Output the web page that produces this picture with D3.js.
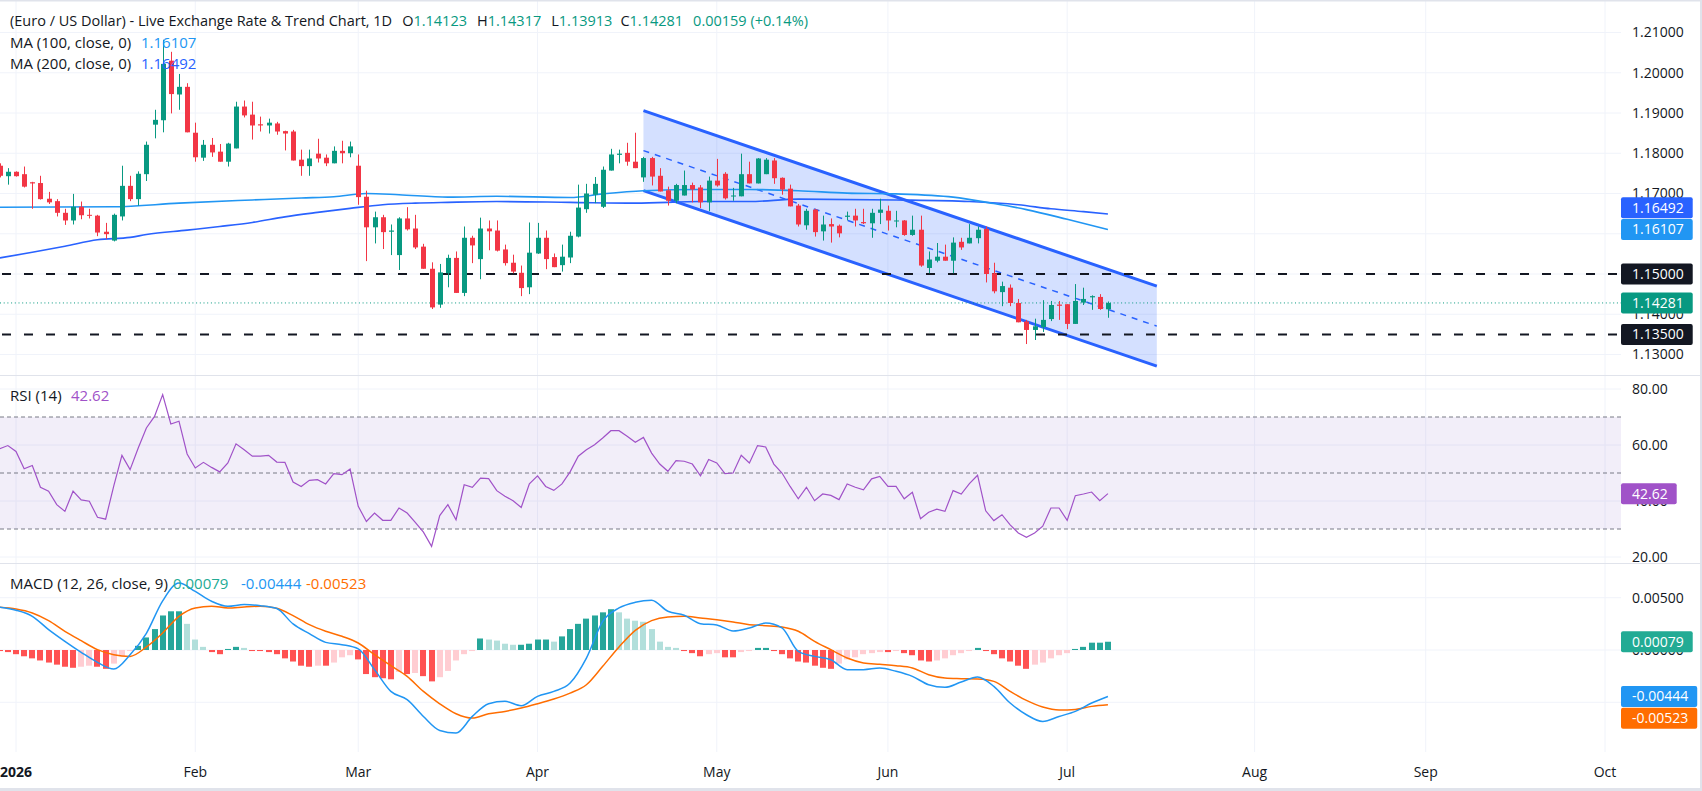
<!DOCTYPE html>
<html>
<head>
<meta charset="utf-8">
<script src="https://cdn.jsdelivr.net/npm/d3@7"></script>
<style>
  body { margin: 0; background: #ffffff; }
  svg text { font-family: "Open Sans", "Noto Sans", sans-serif; }
</style>
</head>
<body>
<div id="vis"></div>
<script>
// ---------------- data ----------------
// bars run on trading days (Mon-Fri) from 30 Dec 2025 to 8 Jul 2026
var firstDay = new Date(2025, 11, 30);
var lastAxisDay = new Date(2026, 9, 10);

var opens = [
  1.1769, 1.1743, 1.1754, 1.1748, 1.1728, 1.1726, 1.1687, 1.1681, 1.1652, 1.1633,
  1.1667, 1.1647, 1.1645, 1.1605, 1.1583, 1.1643, 1.1719, 1.1686, 1.1748, 1.1871,
  1.1882, 1.2030, 1.1946, 1.1965, 1.1851, 1.1789, 1.1821, 1.1804, 1.1779, 1.1812,
  1.1916, 1.1896, 1.1872, 1.1869, 1.1874, 1.1855, 1.1854, 1.1784, 1.1768, 1.1799,
  1.1789, 1.1775, 1.1806, 1.1800, 1.1769, 1.1692, 1.1616, 1.1641, 1.1605, 1.1547,
  1.1638, 1.1613, 1.1568, 1.1513, 1.1424, 1.1502, 1.1540, 1.1453, 1.1590, 1.1537,
  1.1613, 1.1608, 1.1561, 1.1528, 1.1503, 1.1467, 1.1551, 1.1590, 1.1542, 1.1522,
  1.1541, 1.1593, 1.1661, 1.1697, 1.1667, 1.1757, 1.1796, 1.1801, 1.1779, 1.1740,
  1.1788, 1.1744, 1.1708, 1.1682, 1.1695, 1.1721, 1.1715, 1.1678, 1.1732, 1.1749,
  1.1693, 1.1693, 1.1748, 1.1725, 1.1748, 1.1782, 1.1739, 1.1712, 1.1670, 1.1621,
  1.1660, 1.1606, 1.1624, 1.1620, 1.1642, 1.1645, 1.1629, 1.1626, 1.1652, 1.1657,
  1.1631, 1.1633, 1.1597, 1.1610, 1.1515, 1.1533, 1.1543, 1.1533, 1.1580, 1.1576,
  1.1589, 1.1612, 1.1502, 1.1455, 1.1466, 1.1428, 1.1382, 1.1361, 1.1368, 1.1388,
  1.1424, 1.1425, 1.1376, 1.1429, 1.1442, 1.1443, 1.14123
];
var highs = [
  1.1775, 1.1763, 1.1755, 1.1767, 1.1729, 1.1744, 1.1704, 1.1686, 1.1662, 1.1699,
  1.1680, 1.1662, 1.1647, 1.1627, 1.1650, 1.1769, 1.1744, 1.1755, 1.1829, 1.1908,
  1.2082, 1.2052, 1.1997, 1.1974, 1.1876, 1.1833, 1.1838, 1.1823, 1.1826, 1.1928,
  1.1931, 1.1928, 1.1891, 1.1886, 1.1878, 1.1856, 1.1858, 1.1809, 1.1809, 1.1836,
  1.1797, 1.1817, 1.1831, 1.1829, 1.1797, 1.1707, 1.1655, 1.1647, 1.1623, 1.1641,
  1.1666, 1.1647, 1.1575, 1.1529, 1.1525, 1.1548, 1.1556, 1.1618, 1.1595, 1.1640,
  1.1633, 1.1633, 1.1573, 1.1548, 1.1521, 1.1628, 1.1627, 1.1608, 1.1551, 1.1573,
  1.1605, 1.1722, 1.1724, 1.1741, 1.1767, 1.1811, 1.1809, 1.1826, 1.1851, 1.1791,
  1.1791, 1.1763, 1.1717, 1.1724, 1.1757, 1.1727, 1.1721, 1.1742, 1.1786, 1.1753,
  1.1714, 1.1799, 1.1779, 1.1788, 1.1788, 1.1788, 1.1740, 1.1722, 1.1674, 1.1662,
  1.1662, 1.1645, 1.1638, 1.1623, 1.1655, 1.1662, 1.1662, 1.1662, 1.1687, 1.1670,
  1.1657, 1.1634, 1.1645, 1.1645, 1.1556, 1.1577, 1.1573, 1.1591, 1.1590, 1.1624,
  1.1618, 1.1618, 1.1528, 1.1481, 1.1474, 1.1438, 1.1386, 1.1389, 1.1435, 1.1433,
  1.1433, 1.1425, 1.1475, 1.1466, 1.1447, 1.1450, 1.14317
];
var lows = [
  1.1740, 1.1722, 1.1742, 1.1715, 1.1662, 1.1685, 1.1674, 1.1643, 1.1622, 1.1623,
  1.1636, 1.1638, 1.1594, 1.1587, 1.1581, 1.1633, 1.1681, 1.1670, 1.1731, 1.1837,
  1.1852, 1.1899, 1.1908, 1.1852, 1.1779, 1.1781, 1.1791, 1.1779, 1.1767, 1.1812,
  1.1889, 1.1834, 1.1854, 1.1849, 1.1846, 1.1807, 1.1782, 1.1744, 1.1744, 1.1777,
  1.1768, 1.1775, 1.1775, 1.1790, 1.1672, 1.1532, 1.1576, 1.1562, 1.1547, 1.1510,
  1.1608, 1.1562, 1.1513, 1.1413, 1.1416, 1.1467, 1.1453, 1.1445, 1.1527, 1.1487,
  1.1559, 1.1556, 1.1521, 1.1502, 1.1445, 1.1450, 1.1550, 1.1512, 1.1517, 1.1506,
  1.1527, 1.1591, 1.1652, 1.1676, 1.1664, 1.1757, 1.1775, 1.1769, 1.1763, 1.1729,
  1.1720, 1.1705, 1.1670, 1.1676, 1.1695, 1.1678, 1.1664, 1.1656, 1.1717, 1.1685,
  1.1682, 1.1693, 1.1725, 1.1725, 1.1748, 1.1724, 1.1697, 1.1668, 1.1618, 1.1610,
  1.1593, 1.1583, 1.1578, 1.1591, 1.1633, 1.1618, 1.1624, 1.1590, 1.1624, 1.1608,
  1.1616, 1.1595, 1.1595, 1.1518, 1.1502, 1.1529, 1.1533, 1.1502, 1.1560, 1.1576,
  1.1576, 1.1479, 1.1452, 1.1420, 1.1420, 1.1380, 1.1326, 1.1336, 1.1356, 1.1383,
  1.1386, 1.1363, 1.1376, 1.1423, 1.1411, 1.1411, 1.13913
];
var closes = [
  1.1744, 1.1754, 1.1743, 1.1717, 1.1725, 1.1686, 1.1678, 1.1652, 1.1633, 1.1667,
  1.1646, 1.1645, 1.1603, 1.1599, 1.1647, 1.1719, 1.1686, 1.1749, 1.1821, 1.1883,
  1.2022, 1.1947, 1.1965, 1.1852, 1.1790, 1.1821, 1.1802, 1.1779, 1.1824, 1.1916,
  1.1894, 1.1869, 1.1869, 1.1876, 1.1854, 1.1849, 1.1782, 1.1768, 1.1787, 1.1787,
  1.1775, 1.1806, 1.1800, 1.1817, 1.1691, 1.1616, 1.1641, 1.1604, 1.1608, 1.1638,
  1.1611, 1.1566, 1.1513, 1.1417, 1.1504, 1.1540, 1.1453, 1.1590, 1.1571, 1.1613,
  1.1606, 1.1558, 1.1527, 1.1506, 1.1465, 1.1553, 1.1590, 1.1537, 1.1517, 1.1543,
  1.1595, 1.1665, 1.1700, 1.1724, 1.1759, 1.1797, 1.1799, 1.1779, 1.1763, 1.1788,
  1.1742, 1.1705, 1.1682, 1.1721, 1.1721, 1.1710, 1.1678, 1.1732, 1.1720, 1.1688,
  1.1695, 1.1748, 1.1725, 1.1787, 1.1784, 1.1738, 1.1710, 1.1668, 1.1623, 1.1657,
  1.1604, 1.1623, 1.1618, 1.1601, 1.1645, 1.1633, 1.1626, 1.1652, 1.1660, 1.1633,
  1.1633, 1.1597, 1.1610, 1.1521, 1.1536, 1.1543, 1.1533, 1.1578, 1.1566, 1.1590,
  1.1610, 1.1500, 1.1457, 1.1470, 1.1428, 1.1380, 1.1361, 1.1370, 1.1386, 1.1423,
  1.1421, 1.1376, 1.1433, 1.1438, 1.1445, 1.1413, 1.14281
];

// moving averages, sampled at bar numbers (0 = 30 Dec 2025)
var ma100Bars = [0, 14, 22, 31, 37, 41, 45, 49, 55, 61, 70, 74, 79, 86, 92, 98, 104, 110, 117, 122, 126, 131, 136];
var ma100 = [1.1666, 1.1667, 1.1676, 1.1684, 1.1689, 1.1692, 1.1700, 1.1697, 1.1691, 1.1693, 1.1690, 1.1699,
             1.1707, 1.1710, 1.1710, 1.1707, 1.1701, 1.1699, 1.1691, 1.1675, 1.1660, 1.1636, 1.16107];
var ma200Bars = [0, 4, 8, 12, 16, 18, 23, 27, 31, 35, 39, 43, 47, 51, 55, 61, 70, 78, 86, 92, 98, 110, 119, 125, 129, 133, 136];
var ma200 = [1.1540, 1.1554, 1.1569, 1.1585, 1.1591, 1.1598, 1.1609, 1.1618, 1.1628, 1.1642, 1.1653, 1.1663,
             1.1672, 1.1676, 1.1678, 1.1680, 1.1678, 1.1676, 1.1680, 1.1680, 1.1686, 1.1684, 1.1680, 1.1672,
             1.1662, 1.1655, 1.16492];

// descending channel drawn on the chart
var channelBars = [79, 142];
var channelTop = [1.1906, 1.1470];
var channelBottom = [1.1707, 1.1271];
var levels = [1.15, 1.135];

var rsi = [
  58.7, 59.8, 57.7, 51.5, 52.7, 44.9, 43.5, 38.7, 36.3, 43.5,
  40.4, 39.9, 34.2, 33.5, 45.4, 56.3, 51.2, 58.9, 66.1, 70.2,
  78.0, 67.5, 68.5, 56.8, 51.8, 53.8, 52.0, 50.4, 53.6, 60.4,
  58.3, 56.0, 56.0, 56.3, 53.9, 53.8, 46.8, 45.2, 47.4, 47.6,
  46.1, 49.8, 49.4, 51.4, 38.1, 32.7, 35.7, 33.1, 33.1, 37.5,
  35.7, 32.4, 28.9, 23.8, 34.8, 38.7, 33.3, 45.8, 44.9, 48.2,
  48.0, 43.7, 41.7, 40.1, 37.7, 46.1, 49.0, 45.2, 43.8, 46.1,
  50.4, 56.0, 58.3, 60.1, 62.5, 65.1, 65.1, 63.1, 61.0, 62.7,
  57.1, 53.2, 50.6, 54.4, 54.2, 53.2, 49.0, 54.8, 53.6, 49.8,
  50.0, 56.3, 53.6, 59.8, 59.3, 53.2, 50.0, 45.2, 40.8, 44.9,
  40.1, 42.5, 42.0, 40.5, 46.1, 44.9, 44.0, 47.9, 48.8, 45.2,
  45.2, 40.8, 43.1, 33.7, 36.0, 37.1, 36.3, 43.7, 42.5, 46.2,
  49.2, 36.5, 33.0, 35.1, 31.5, 28.6, 27.0, 28.6, 31.0, 37.5,
  37.5, 33.1, 41.9, 42.5, 43.2, 40.1, 42.62
];

// MACD and signal lines, read every second bar (0, 2, 4 ... 136)
var macdLine = [
  0.00408, 0.00380, 0.00322, 0.00195, 0.00083, -0.00022, -0.00118, -0.00182, -0.00045, 0.00160,
  0.00470, 0.00640, 0.00560, 0.00466, 0.00418, 0.00434, 0.00424, 0.00396, 0.00249, 0.00156,
  0.00073, 0.00051, 0.00010, -0.00188, -0.00396, -0.00475, -0.00635, -0.00769, -0.00794, -0.00635,
  -0.00514, -0.00491, -0.00533, -0.00443, -0.00396, -0.00316, -0.00077, 0.00274, 0.00402, 0.00456,
  0.00475, 0.00370, 0.00332, 0.00252, 0.00239, 0.00182, 0.00211, 0.00258, 0.00211, -0.00013,
  -0.00061, -0.00093, -0.00188, -0.00188, -0.00172, -0.00204, -0.00252, -0.00332, -0.00357, -0.00306,
  -0.00258, -0.00348, -0.00507, -0.00619, -0.00683, -0.00635, -0.00587, -0.00507, -0.00444
];
var signalLine = [
  0.00408, 0.00392, 0.00354, 0.00281, 0.00179, 0.00089, 0.00003, -0.00045, -0.00061, 0.00029,
  0.00163, 0.00322, 0.00402, 0.00418, 0.00402, 0.00412, 0.00418, 0.00399, 0.00329, 0.00242,
  0.00179, 0.00131, 0.00067, -0.00045, -0.00150, -0.00252, -0.00396, -0.00514, -0.00609, -0.00651,
  -0.00609, -0.00587, -0.00555, -0.00514, -0.00469, -0.00412, -0.00332, -0.00156, 0.00029, 0.00188,
  0.00281, 0.00316, 0.00322, 0.00306, 0.00290, 0.00268, 0.00242, 0.00233, 0.00220, 0.00179,
  0.00083, 0.00003, -0.00077, -0.00124, -0.00137, -0.00150, -0.00172, -0.00236, -0.00268, -0.00274,
  -0.00278, -0.00300, -0.00396, -0.00482, -0.00545, -0.00574, -0.00568, -0.00539, -0.00523
];
var histogram = [
  -0.0001, -0.0002, -0.0004, -0.0006, -0.0008, -0.0010, -0.0012, -0.0014, -0.0016, -0.0017,
  -0.0016, -0.0015, -0.0016, -0.0018, -0.0013, -0.0006, -0.0001, 0.0004, 0.0012, 0.0020,
  0.0033, 0.0037, 0.0037, 0.0025, 0.0010, 0.0003, -0.0002, -0.0004, 0.0001, 0.0003,
  0.0002, -0.0001, -0.0001, -0.0002, -0.0004, -0.0008, -0.0011, -0.0015, -0.0016, -0.0015,
  -0.0015, -0.0012, -0.0007, -0.0005, -0.0009, -0.0023, -0.0026, -0.0027, -0.0028, -0.0021,
  -0.0023, -0.0022, -0.0025, -0.0030, -0.0026, -0.0020, -0.0010, -0.0004, -0.0001, 0.0011,
  0.0010, 0.0009, 0.0006, 0.0005, 0.0005, 0.0006, 0.0010, 0.0010, 0.0008, 0.0013,
  0.0020, 0.0025, 0.0030, 0.0033, 0.0036, 0.0039, 0.0036, 0.0030, 0.0028, 0.0027,
  0.0020, 0.0008, 0.0003, 0.0002, -0.0001, -0.0003, -0.0006, -0.0004, -0.0003, -0.0007,
  -0.0007, -0.0002, -0.0001, 0.0002, 0.0002, -0.0001, -0.0004, -0.0008, -0.0011, -0.0012,
  -0.0015, -0.0017, -0.0018, -0.0013, -0.0009, -0.0007, -0.0004, -0.0003, -0.0002, -0.0002,
  -0.0001, -0.0003, -0.0005, -0.0010, -0.0011, -0.0010, -0.0008, -0.0005, -0.0003, -0.0001,
  0.0002, -0.0001, -0.0004, -0.0008, -0.0011, -0.0015, -0.0018, -0.0014, -0.0012, -0.0008,
  -0.0005, -0.0003, 0.0001, 0.0003, 0.0007, 0.0007, 0.00079
];

var priceTicks = [1.13, 1.14, 1.15, 1.16, 1.17, 1.18, 1.19, 1.20, 1.21];
var rsiTicks = [20, 40, 60, 80];
var rsiBands = [70, 50, 30];
var macdTicks = [-0.005, 0, 0.005];
var monthLabels = ["2026", "Feb", "Mar", "Apr", "May", "Jun", "Jul", "Aug", "Sep", "Oct"];

// ---------------- layout ----------------
var width = 1702, height = 791;
var plotW = 1621;
var pane = { price: [0, 375], rsi: [375, 563], macd: [563, 752] };
var up = "#089981", down = "#f23645";
var gridColor = "#f0f3fa", borderColor = "#e0e3eb", textColor = "#131722";
var rsiColor = "#a052c8", ma100Color = "#2196f3", ma200Color = "#2962ff";

var days = d3.timeDay.range(firstDay, lastAxisDay).filter(function (d) { return d.getDay() % 6 !== 0; });
var bars = d3.range(closes.length);

var x = d3.scaleLinear().domain([2, 197]).range([16, 1605]);
var yPrice = d3.scaleLinear().domain([1.13, 1.21]).range([354.5, 32.5]);
var yRsi = d3.scaleLinear().domain([20, 80]).range([557, 389]);
var yMacd = d3.scaleLinear().domain([-0.005, 0.005]).range([702.3, 597.7]);

var svg = d3.select("#vis").append("svg")
    .attr("width", width).attr("height", height)
    .style("display", "block");

svg.append("rect").attr("width", width).attr("height", height).attr("fill", "#fff");

var defs = svg.append("defs");
Object.keys(pane).forEach(function (k) {
  defs.append("clipPath").attr("id", "clip-" + k)
    .append("rect").attr("x", 0).attr("y", pane[k][0]).attr("width", plotW).attr("height", pane[k][1] - pane[k][0]);
});

// month gridlines + axis labels
var monthTicks = monthLabels.map(function (lab, j) {
  var idx = days.findIndex(function (d) { return d.getFullYear() === 2026 && d.getMonth() === j; });
  return { label: lab, bar: idx };
});

var grid = svg.append("g");
grid.selectAll("line.v").data(monthTicks).enter().append("line")
    .attr("x1", function (d) { return x(d.bar); }).attr("x2", function (d) { return x(d.bar); })
    .attr("y1", 0).attr("y2", pane.macd[1])
    .attr("stroke", gridColor).attr("stroke-width", 1);

grid.selectAll("line.p").data(priceTicks).enter().append("line")
    .attr("x1", 0).attr("x2", plotW)
    .attr("y1", function (d) { return yPrice(d); }).attr("y2", function (d) { return yPrice(d); })
    .attr("stroke", gridColor);
grid.selectAll("line.r").data(rsiTicks).enter().append("line")
    .attr("x1", 0).attr("x2", plotW)
    .attr("y1", function (d) { return yRsi(d); }).attr("y2", function (d) { return yRsi(d); })
    .attr("stroke", gridColor);
grid.selectAll("line.m").data(macdTicks).enter().append("line")
    .attr("x1", 0).attr("x2", plotW)
    .attr("y1", function (d) { return yMacd(d); }).attr("y2", function (d) { return yMacd(d); })
    .attr("stroke", gridColor);

// ---------------- price pane ----------------
var price = svg.append("g").attr("clip-path", "url(#clip-price)");

// channel
var chan = price.append("g");
chan.append("path")
    .attr("d", d3.line()([
      [x(channelBars[0]), yPrice(channelTop[0])], [x(channelBars[1]), yPrice(channelTop[1])],
      [x(channelBars[1]), yPrice(channelBottom[1])], [x(channelBars[0]), yPrice(channelBottom[0])]
    ]) + "Z")
    .attr("fill", "rgba(41,98,255,0.2)");
[channelTop, channelBottom].forEach(function (c) {
  chan.append("line")
      .attr("x1", x(channelBars[0])).attr("y1", yPrice(c[0]))
      .attr("x2", x(channelBars[1])).attr("y2", yPrice(c[1]))
      .attr("stroke", "#2962ff").attr("stroke-width", 3);
});
chan.append("line")
    .attr("x1", x(channelBars[0])).attr("y1", yPrice((channelTop[0] + channelBottom[0]) / 2))
    .attr("x2", x(channelBars[1])).attr("y2", yPrice((channelTop[1] + channelBottom[1]) / 2))
    .attr("stroke", "#2962ff").attr("stroke-width", 1.5).attr("stroke-dasharray", "6,6");

// horizontal levels
price.selectAll("line.lvl").data(levels).enter().append("line")
    .attr("x1", 0).attr("x2", plotW)
    .attr("y1", function (d) { return yPrice(d); }).attr("y2", function (d) { return yPrice(d); })
    .attr("stroke", textColor).attr("stroke-width", 2).attr("stroke-dasharray", "9,13")
    .attr("stroke-dashoffset", -2);

// last price line
var lastClose = closes[closes.length - 1];
price.append("line")
    .attr("x1", 0).attr("x2", plotW)
    .attr("y1", yPrice(lastClose)).attr("y2", yPrice(lastClose))
    .attr("stroke", up).attr("stroke-width", 1).attr("stroke-dasharray", "1,2.7");

// moving averages
var maLine = d3.line().curve(d3.curveMonotoneX);
price.append("path")
    .attr("d", maLine(ma200Bars.map(function (b, j) { return [x(b), yPrice(ma200[j])]; })))
    .attr("fill", "none").attr("stroke", ma200Color).attr("stroke-width", 1.6);
price.append("path")
    .attr("d", maLine(ma100Bars.map(function (b, j) { return [x(b), yPrice(ma100[j])]; })))
    .attr("fill", "none").attr("stroke", ma100Color).attr("stroke-width", 1.6);

// candles
var candle = price.selectAll("g.candle").data(bars).enter().append("g")
    .attr("fill", function (i) { return closes[i] >= opens[i] ? up : down; })
    .attr("stroke", function (i) { return closes[i] >= opens[i] ? up : down; });
candle.append("line")
    .attr("x1", function (i) { return Math.round(x(i)) + 0.5; })
    .attr("x2", function (i) { return Math.round(x(i)) + 0.5; })
    .attr("y1", function (i) { return yPrice(highs[i]); })
    .attr("y2", function (i) { return yPrice(lows[i]); })
    .attr("stroke-width", 1);
candle.append("rect")
    .attr("stroke", "none")
    .attr("x", function (i) { return Math.round(x(i)) - 2; })
    .attr("width", 5)
    .attr("y", function (i) { return yPrice(Math.max(opens[i], closes[i])); })
    .attr("height", function (i) { return Math.max(1, Math.abs(yPrice(opens[i]) - yPrice(closes[i]))); });

// ---------------- RSI pane ----------------
var rsiG = svg.append("g").attr("clip-path", "url(#clip-rsi)");
rsiG.append("rect")
    .attr("x", 0).attr("width", plotW)
    .attr("y", yRsi(rsiBands[0])).attr("height", yRsi(rsiBands[2]) - yRsi(rsiBands[0]))
    .attr("fill", "rgba(126,87,194,0.1)");
rsiG.selectAll("line.band").data(rsiBands).enter().append("line")
    .attr("x1", 0).attr("x2", plotW)
    .attr("y1", function (d) { return yRsi(d); }).attr("y2", function (d) { return yRsi(d); })
    .attr("stroke", "#787b86").attr("stroke-width", 1).attr("stroke-dasharray", "4,3");
rsiG.append("path")
    .attr("d", d3.line()(bars.map(function (i) { return [x(i), yRsi(rsi[i])]; })))
    .attr("fill", "none").attr("stroke", rsiColor).attr("stroke-width", 1.2);

// ---------------- MACD pane ----------------
var macdG = svg.append("g").attr("clip-path", "url(#clip-macd)");
function histColor(i) {
  var v = histogram[i], prev = i > 0 ? histogram[i - 1] : v;
  if (v >= 0) return v >= prev ? "#26a69a" : "#b2dfdb";
  return v <= prev ? "#ff5252" : "#ffcdd2";
}
macdG.selectAll("rect.h").data(bars).enter().append("rect")
    .attr("x", function (i) { return Math.round(x(i)) - 3; })
    .attr("width", 6)
    .attr("y", function (i) { return Math.min(yMacd(0), yMacd(histogram[i])); })
    .attr("height", function (i) { return Math.max(1, Math.abs(yMacd(histogram[i]) - yMacd(0))); })
    .attr("fill", histColor);
var evenBars = d3.range(0, closes.length, 2);
var smooth = d3.line().curve(d3.curveMonotoneX);
macdG.append("path")
    .attr("d", smooth(evenBars.map(function (b, j) { return [x(b), yMacd(signalLine[j])]; })))
    .attr("fill", "none").attr("stroke", "#ff6d00").attr("stroke-width", 1.5);
macdG.append("path")
    .attr("d", smooth(evenBars.map(function (b, j) { return [x(b), yMacd(macdLine[j])]; })))
    .attr("fill", "none").attr("stroke", "#2196f3").attr("stroke-width", 1.5);

// ---------------- frame and separators ----------------
svg.append("line").attr("x1", 0).attr("x2", width).attr("y1", 375.5).attr("y2", 375.5).attr("stroke", borderColor);
svg.append("line").attr("x1", 0).attr("x2", width).attr("y1", 563.5).attr("y2", 563.5).attr("stroke", borderColor);
svg.append("rect").attr("x", 0).attr("y", 0).attr("width", width).attr("height", 1.5).attr("fill", borderColor);
svg.append("rect").attr("x", width - 2).attr("y", 0).attr("width", 2).attr("height", height).attr("fill", borderColor);
svg.append("rect").attr("x", 0).attr("y", height - 3).attr("width", width).attr("height", 3).attr("fill", borderColor);

// ---------------- axes ----------------
var axisX = 1632;
var axisG = svg.append("g").attr("font-size", 14).attr("fill", textColor);
axisG.selectAll("text.p").data(priceTicks).enter().append("text")
    .attr("x", axisX).attr("y", function (d) { return yPrice(d); }).attr("dy", "0.35em")
    .text(function (d) { return d.toFixed(5); });
axisG.selectAll("text.r").data(rsiTicks).enter().append("text")
    .attr("x", axisX).attr("y", function (d) { return yRsi(d); }).attr("dy", "0.35em")
    .text(function (d) { return d.toFixed(2); });
axisG.selectAll("text.m").data(macdTicks).enter().append("text")
    .attr("x", axisX).attr("y", function (d) { return yMacd(d); }).attr("dy", "0.35em")
    .text(function (d) { return d.toFixed(5); });

svg.append("g").attr("font-size", 14).attr("fill", textColor)
  .selectAll("text").data(monthTicks).enter().append("text")
    .attr("x", function (d) { return x(d.bar); }).attr("y", 777)
    .attr("text-anchor", "middle")
    .attr("font-weight", function (d) { return d.label === "2026" ? "bold" : "normal"; })
    .text(function (d) { return d.label; });

// value badges on the right scale (drawn over the tick labels, as on the reference)
function badges(list, scale) {
  var placed = [];
  list.forEach(function (b) {
    var y = scale(b.value);
    placed.forEach(function (p) {
      if (Math.abs(y - p.y) < 21.5) y = y < p.natural ? p.y - 21.7 : p.y + 21.7;
    });
    placed.push({ y: y, natural: scale(b.value) });
    var g = svg.append("g");
    var t = g.append("text").attr("x", axisX).attr("y", y).attr("dy", "0.35em")
        .attr("font-size", 14).attr("fill", "#fff").text(b.text);
    var w = t.node().getComputedTextLength();
    g.insert("rect", "text").attr("x", plotW).attr("y", y - 10.5)
        .attr("width", w + (axisX - plotW) * 2 - 2).attr("height", 21).attr("rx", 2)
        .attr("fill", b.color);
  });
}
badges([
  { value: ma100[ma100.length - 1], text: "1.16107", color: ma100Color },
  { value: ma200[ma200.length - 1], text: "1.16492", color: ma200Color }
], yPrice);
badges([{ value: levels[0], text: "1.15000", color: textColor }], yPrice);
badges([{ value: lastClose, text: "1.14281", color: up }], yPrice);
badges([{ value: levels[1], text: "1.13500", color: textColor }], yPrice);
badges([{ value: rsi[rsi.length - 1], text: "42.62", color: rsiColor }], yRsi);
badges([{ value: histogram[histogram.length - 1], text: "0.00079", color: "#22ab94" }], yMacd);
badges([
  { value: macdLine[macdLine.length - 1], text: "-0.00444", color: "#2196f3" },
  { value: signalLine[signalLine.length - 1], text: "-0.00523", color: "#ff6d00" }
], yMacd);

// ---------------- legends ----------------
var leg = svg.append("g").attr("font-size", 15).attr("fill", textColor);
function legendLine(y, x0, parts, size) {
  var t = leg.append("text").attr("x", x0).attr("y", y).attr("dy", "0.35em");
  if (size) t.attr("font-size", size);
  parts.forEach(function (p) {
    var s = t.append("tspan").attr("fill", p.color || textColor).text(p.text);
    if (p.x != null) s.attr("x", p.x);
    if (p.dx != null) s.attr("dx", p.dx);
  });
}
var o = opens[opens.length - 1], h = highs[highs.length - 1], l = lows[lows.length - 1];
legendLine(21, 10, [
  { text: "(Euro / US Dollar) - Live Exchange Rate & Trend Chart, 1D" },
  { dx: 10, text: "O" }, { text: o.toFixed(5), color: up },
  { dx: 10, text: "H" }, { text: h.toFixed(5), color: up },
  { dx: 10, text: "L" }, { text: l.toFixed(5), color: up },
  { dx: 8, text: "C" }, { text: lastClose.toFixed(5), color: up },
  { dx: 10, text: "0.00159 (+0.14%)", color: up }
], 14.5);
legendLine(43, 10, [{ text: "MA (100, close, 0)" }, { x: 141, text: "1.16107", color: ma100Color }]);
legendLine(64, 10, [{ text: "MA (200, close, 0)" }, { x: 141, text: "1.16492", color: ma200Color }]);
legendLine(396, 10, [{ text: "RSI (14)" }, { x: 71, text: "42.62", color: rsiColor }]);
legendLine(584, 10, [
  { text: "MACD (12, 26, close, 9)" },
  { x: 173, text: "0.00079", color: "#22ab94" },
  { x: 241, text: "-0.00444", color: "#2196f3" },
  { x: 306, text: "-0.00523", color: "#ff6d00" }
]);
</script>
</body>
</html>
